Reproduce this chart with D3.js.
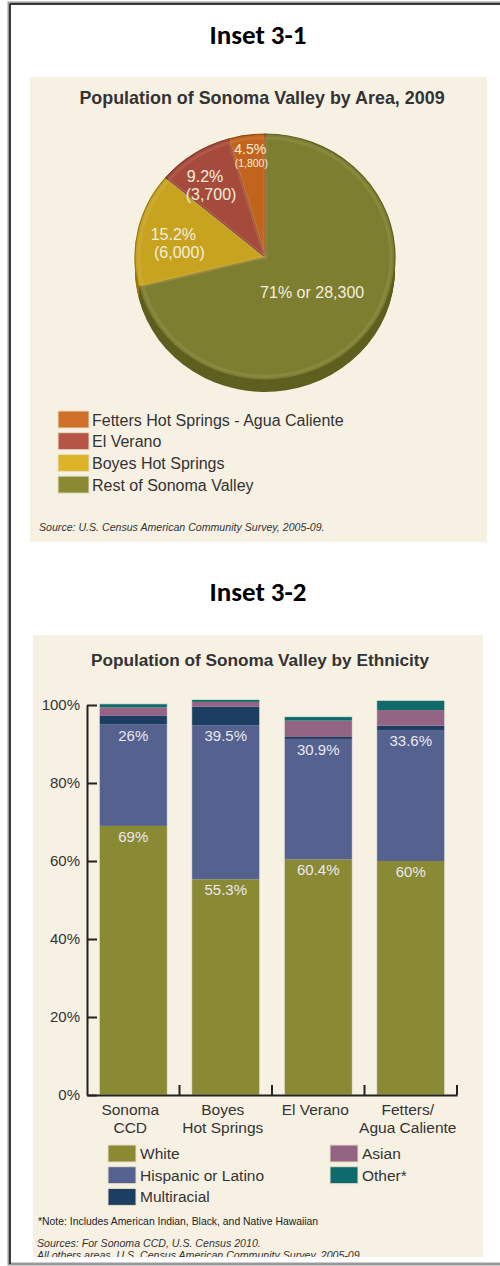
<!DOCTYPE html>
<html>
<head>
<meta charset="utf-8">
<script src="https://cdn.jsdelivr.net/npm/d3@7"></script>
<style>
  body { margin: 0; background: #fff; }
  svg { display: block; font-family: "Liberation Sans", Arial, sans-serif; }
  .inset { font-family: Carlito, Calibri, Lato, sans-serif; font-weight: bold; font-size: 27px; fill: #000; }
  .title { font-weight: bold; fill: #333; }
  .legend { font-size: 16px; fill: #333; }
  .note { font-size: 10.4px; fill: #222; }
  .src { font-size: 10.6px; font-style: italic; fill: #333; }
  .axis text { font-size: 15px; fill: #333; font-family: "Liberation Sans", Arial, sans-serif; }
</style>
</head>
<body>
<div id="chart"></div>
<script>
// Inset 3-1 data (pie, clockwise from 12 o'clock)
var areaNames = ["Rest of Sonoma Valley", "Boyes Hot Springs", "El Verano", "Fetters Hot Springs - Agua Caliente"];
var areaPop = [28300, 6000, 3700, 1800];
var areaPct = ["71%", "15.2%", "9.2%", "4.5%"];
var areaPopLabel = ["28,300", "(6,000)", "(3,700)", "(1,800)"];

// Inset 3-2 data (stacked bars)
var places = [["Sonoma", "CCD"], ["Boyes", "Hot Springs"], ["El Verano"], ["Fetters/", "Agua Caliente"]];
var ethnicGroups = ["White", "Hispanic or Latino", "Multiracial", "Asian", "Other*"];
var white = [69, 55.3, 60.4, 60];
var hispanic = [26, 39.5, 30.9, 33.6];
var multiracial = [2.2, 4.8, 0.5, 1.1];
var asian = [2.2, 1.2, 4.2, 4.0];
var other = [0.9, 0.6, 1.0, 2.5];
var yTicks = [0, 20, 40, 60, 80, 100];

function init() {
    var w = 500, h = 1266;
    var svg = d3.select("#chart").append("svg")
        .attr("width", w).attr("height", h);

    // page frame
    svg.append("rect").attr("x", 9).attr("y", 3).attr("width", 500).attr("height", 1261)
        .attr("fill", "none").attr("stroke", "#9a9a9a").attr("stroke-width", 3);
    svg.append("line").attr("x1", 10).attr("x2", 500).attr("y1", 4).attr("y2", 4)
        .attr("stroke", "#111").attr("stroke-width", 1.5);
    svg.append("line").attr("x1", 10).attr("x2", 10).attr("y1", 4).attr("y2", 1264)
        .attr("stroke", "#111").attr("stroke-width", 1.5);

    // ---------- Inset 3-1 ----------
    svg.append("text").attr("class", "inset").attr("x", 258).attr("y", 44)
        .attr("text-anchor", "middle").text("Inset 3-1");
    svg.append("rect").attr("x", 30).attr("y", 77).attr("width", 457).attr("height", 465)
        .attr("fill", "#f7f1e4");
    svg.append("text").attr("class", "title").attr("x", 262).attr("y", 104)
        .style("font-size", "17.9px")
        .attr("text-anchor", "middle").text("Population of Sonoma Valley by Area, 2009");

    var faceColors = ["#7e7e31", "#c8a320", "#a64b3c", "#c2631e"];
    var sideColors = ["#5f5f20", "#987a12", "#7d3529", "#924814"];
    var legendColors = ["#8a8a35", "#ddb327", "#b65445", "#d0702a"];
    var labelR = [0.46, 0.7, 0.72, 0.8];
    var labelDx = [0, 3, -3, 0];
    var labelDy = [0, 7, 3, -2];

    var cx = 265, cy = 257, R = 130, squash = 0.946, depth = 12;
    var pie = d3.pie().sort(null)(areaPop);
    var arc = d3.arc().innerRadius(0).outerRadius(R);

    var pieG = svg.append("g").attr("transform", "translate(" + cx + "," + cy + ")");
    // extruded sides
    for (var k = depth; k >= 1; k--) {
        pieG.append("g").attr("transform", "translate(0," + k + ") scale(1," + squash + ")")
            .selectAll("path").data(pie).enter().append("path")
            .attr("d", arc).attr("fill", (d, i) => sideColors[i]);
    }
    // faces
    var face = pieG.append("g").attr("transform", "scale(1," + squash + ")");
    face.selectAll("path").data(pie).enter().append("path")
        .attr("d", arc)
        .attr("fill", (d, i) => faceColors[i])
        .attr("stroke", (d, i) => sideColors[i]).attr("stroke-width", 1.2)
        .attr("stroke-linejoin", "round");
    face.selectAll("path.inner").data(pie).enter().append("path")
        .attr("d", d3.arc().innerRadius(0).outerRadius(R - 4))
        .attr("fill", "none").attr("stroke", "#ffffff").attr("stroke-opacity", 0.08)
        .attr("stroke-width", 3);

    // slice labels
    pie.forEach(function (d, i) {
        var a = (d.startAngle + d.endAngle) / 2;
        var r = R * labelR[i];
        var px = Math.sin(a) * r + labelDx[i], py = -Math.cos(a) * r * squash + labelDy[i];
        var t = pieG.append("text").attr("fill", "#f3eedc").attr("text-anchor", "middle");
        if (i === 0) {
            t.attr("x", px).attr("y", py + 6).style("font-size", "16px")
                .text(areaPct[i] + " or " + areaPopLabel[i]);
        } else if (i === 3) {
            t.append("tspan").attr("x", px).attr("y", py - 4).style("font-size", "14px").text(areaPct[i]);
            t.append("tspan").attr("x", px + 1).attr("y", py + 9).style("font-size", "10.5px").text(areaPopLabel[i]);
        } else {
            t.append("tspan").attr("x", px - 6).attr("y", py - 4).style("font-size", "16px").text(areaPct[i]);
            t.append("tspan").attr("x", px).attr("y", py + 14).style("font-size", "16px").text(areaPopLabel[i]);
        }
    });

    // legend 1 (reverse order)
    var leg1 = svg.append("g").attr("transform", "translate(58,411)");
    var legOrder = [3, 2, 1, 0];
    legOrder.forEach(function (idx, j) {
        leg1.append("rect").attr("x", 0).attr("y", j * 21.7).attr("width", 31).attr("height", 17)
            .attr("fill", legendColors[idx]).attr("stroke", "#e9dfc6").attr("stroke-width", 1);
        leg1.append("text").attr("class", "legend").attr("x", 34).attr("y", j * 21.7 + 14.5)
            .text(areaNames[idx]);
    });
    svg.append("text").attr("class", "src").attr("x", 39).attr("y", 531)
        .text("Source: U.S. Census American Community Survey, 2005-09.");

    // ---------- Inset 3-2 ----------
    svg.append("text").attr("class", "inset").attr("x", 258).attr("y", 601)
        .attr("text-anchor", "middle").text("Inset 3-2");
    svg.append("clipPath").attr("id", "panel2").append("rect")
        .attr("x", 33).attr("y", 635).attr("width", 450).attr("height", 622);
    var p2 = svg.append("g").attr("clip-path", "url(#panel2)");
    p2.append("rect").attr("x", 33).attr("y", 635).attr("width", 450).attr("height", 622)
        .attr("fill", "#f7f1e4");
    p2.append("text").attr("class", "title").attr("x", 260).attr("y", 666)
        .style("font-size", "17.2px")
        .attr("text-anchor", "middle").text("Population of Sonoma Valley by Ethnicity");

    var x0 = 87, x1 = 457, y0 = 1095, y1 = 705;
    var placeKeys = places.map(d => d.join(" "));
    var xScale = d3.scaleBand().domain(placeKeys).range([x0, x1])
        .paddingInner(0.265).paddingOuter(0.1325);
    var yScale = d3.scaleLinear().domain([0, 100]).range([y0, y1]);

    var rows = placeKeys.map(function (p, i) {
        return { place: p, "White": white[i], "Hispanic or Latino": hispanic[i],
                 "Multiracial": multiracial[i], "Asian": asian[i], "Other*": other[i] };
    });
    var stack = d3.stack().keys(ethnicGroups)(rows);
    var ethColors = { "White": "#8a8a35", "Hispanic or Latino": "#55628f", "Multiracial": "#1c3e62",
                      "Asian": "#936484", "Other*": "#0f6b6b" };

    var layers = p2.selectAll("g.layer").data(stack).enter().append("g")
        .attr("fill", d => ethColors[d.key]);
    layers.selectAll("rect").data(d => d).enter().append("rect")
        .attr("x", d => xScale(d.data.place))
        .attr("width", xScale.bandwidth())
        .attr("y", d => yScale(d[1]))
        .attr("height", d => yScale(d[0]) - yScale(d[1]));
    // light bar outline
    p2.selectAll("rect.outline").data(rows).enter().append("rect")
        .attr("x", d => xScale(d.place))
        .attr("width", xScale.bandwidth())
        .attr("y", d => yScale(d3.sum(ethnicGroups, k => d[k])))
        .attr("height", d => y0 - yScale(d3.sum(ethnicGroups, k => d[k])))
        .attr("fill", "none").attr("stroke", "#ece6e0").attr("stroke-width", 0.8);

    // value labels for White and Hispanic
    stack.slice(0, 2).forEach(function (layer) {
        p2.selectAll(null).data(layer).enter().append("text")
            .attr("x", d => xScale(d.data.place) + xScale.bandwidth() / 2)
            .attr("y", d => yScale(d[1]) + 16)
            .attr("text-anchor", "middle")
            .attr("fill", "#ebe7f0")
            .style("font-size", "15px")
            .text(d => d.data[layer.key] + "%");
    });

    // y axis
    var yAxis = d3.axisLeft(yScale).tickValues(yTicks).tickFormat(d => d + "%")
        .tickSizeInner(-10).tickSizeOuter(0).tickPadding(7);
    var ya = p2.append("g").attr("class", "axis").attr("transform", "translate(" + x0 + ",0)").call(yAxis);
    ya.select(".domain").attr("stroke", "#222").attr("stroke-width", 2);
    ya.selectAll(".tick line").attr("stroke", "#222").attr("stroke-width", 2);

    // x axis
    var xAxis = d3.axisBottom(xScale).tickSize(0).tickPadding(0).tickFormat("");
    var xa = p2.append("g").attr("class", "axis").attr("transform", "translate(0," + y0 + ")").call(xAxis);
    xa.select(".domain").attr("stroke", "#222").attr("stroke-width", 2);
    var step = xScale.step();
    var bounds = d3.range(1, placeKeys.length + 1).map(i => x0 + i * step);
    xa.selectAll("line.bound").data(bounds).enter().append("line")
        .attr("x1", d => d).attr("x2", d => d).attr("y1", 0).attr("y2", -10)
        .attr("stroke", "#222").attr("stroke-width", 2);
    xa.selectAll(".tick").each(function (d, i) {
        var t = d3.select(this).append("text").attr("fill", "#333").attr("text-anchor", "middle")
            .style("font-size", "15.5px");
        places[i].forEach(function (line, j) {
            t.append("tspan").attr("x", -3).attr("y", 20 + j * 18).text(line);
        });
    });

    // legend 2
    var leg2 = p2.append("g");
    var legPos = [[108, 0], [108, 1], [108, 2], [330, 0], [330, 1]];
    ethnicGroups.forEach(function (g, i) {
        var lx = legPos[i][0], ly = 1145 + legPos[i][1] * 21.7;
        leg2.append("rect").attr("x", lx).attr("y", ly).attr("width", 28).attr("height", 17)
            .attr("fill", ethColors[g]).attr("stroke", "#e9dfc6").attr("stroke-width", 1);
        leg2.append("text").attr("class", "legend").style("font-size", "15.5px")
            .attr("x", lx + 32).attr("y", ly + 14).text(g);
    });

    p2.append("text").attr("class", "note").attr("x", 38).attr("y", 1225)
        .text("*Note: Includes American Indian, Black, and Native Hawaiian");
    p2.append("text").attr("class", "src").attr("x", 37).attr("y", 1247)
        .text("Sources: For Sonoma CCD, U.S. Census 2010.");
    p2.append("text").attr("class", "src").attr("x", 37).attr("y", 1259)
        .text("All others areas, U.S. Census American Community Survey, 2005-09");
}

init();
</script>
</body>
</html>
